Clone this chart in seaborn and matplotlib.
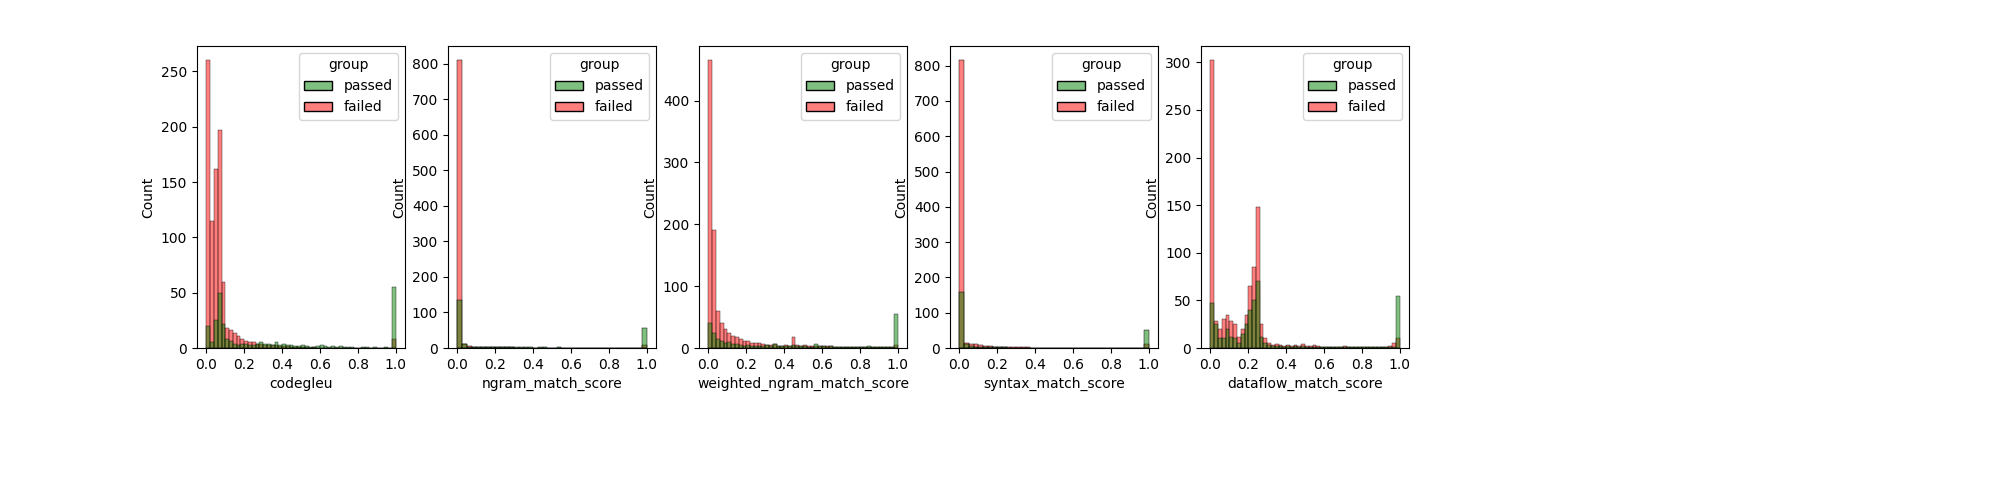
import numpy as np
import pandas as pd
import matplotlib
matplotlib.use("Agg")
import matplotlib.pyplot as plt
import seaborn as sns

metrics = ["codegleu", "ngram_match_score", "weighted_ngram_match_score",
           "syntax_match_score", "dataflow_match_score"]
n_bins = {"codegleu": 50, "ngram_match_score": 40, "weighted_ngram_match_score": 50,
          "syntax_match_score": 40, "dataflow_match_score": 50}

# bin counts
failed_counts = {
    "codegleu": [260, 115, 162, 197, 60, 18, 16, 14, 11, 8, 6, 5, 5, 4, 4, 3, 3, 3, 3, 2,
                 2, 2, 1, 1, 1, 1, 1, 0, 1, 0, 0, 0, 0, 0, 0, 0, 0, 0, 0, 0,
                 0, 0, 0, 0, 0, 0, 0, 0, 0, 8],
    "ngram_match_score": [810, 10, 5, 4, 4, 3, 3, 2, 2, 2, 2, 2, 1, 1, 1, 1, 1, 1, 1, 1,
                          1, 1, 1, 1, 0, 0, 0, 0, 1, 0, 0, 0, 0, 0, 0, 0, 0, 0, 0, 8],
    "weighted_ngram_match_score": [465, 190, 60, 40, 30, 25, 20, 18, 15, 12, 12, 8, 8, 8, 6, 5, 5, 6, 4, 4,
                                   5, 4, 18, 5, 4, 5, 4, 3, 3, 4, 3, 4, 3, 2, 2, 2, 2, 2, 2, 2,
                                   1, 1, 1, 1, 1, 1, 1, 1, 1, 5],
    "syntax_match_score": [815, 15, 12, 10, 8, 7, 6, 4, 3, 3, 3, 2, 2, 2, 2, 1, 1, 1, 1, 1,
                           1, 1, 1, 0, 0, 0, 0, 0, 0, 0, 0, 0, 0, 0, 0, 0, 0, 0, 0, 10],
    "dataflow_match_score": [302, 28, 20, 30, 35, 28, 25, 12, 20, 35, 65, 85, 148, 25, 10, 5, 3, 4, 3, 2,
                             3, 2, 3, 2, 4, 2, 2, 3, 2, 1, 1, 1, 1, 1, 1, 2, 1, 1, 1, 1,
                             1, 1, 1, 1, 1, 1, 1, 2, 5, 10],
}
passed_counts = {
    "codegleu": [20, 5, 25, 50, 22, 8, 6, 4, 3, 4, 4, 3, 3, 4, 5, 4, 4, 3, 5, 3,
                 4, 3, 3, 2, 2, 3, 2, 1, 1, 2, 3, 2, 1, 2, 1, 2, 1, 1, 1, 0,
                 0, 1, 1, 0, 1, 0, 0, 1, 0, 55],
    "ngram_match_score": [135, 12, 4, 3, 4, 3, 3, 2, 3, 2, 2, 3, 2, 2, 2, 2, 1, 2, 2, 1,
                          1, 2, 1, 1, 1, 1, 1, 1, 1, 1, 1, 1, 1, 1, 1, 1, 0, 0, 0, 55],
    "weighted_ngram_match_score": [40, 25, 15, 12, 8, 10, 6, 6, 5, 4, 5, 4, 3, 3, 4, 5, 3, 6, 4, 3,
                                   3, 4, 5, 4, 3, 3, 2, 2, 6, 3, 3, 2, 3, 2, 2, 2, 1, 2, 1, 2,
                                   1, 2, 3, 2, 1, 1, 1, 1, 1, 55],
    "syntax_match_score": [160, 10, 5, 3, 3, 2, 2, 2, 2, 2, 1, 1, 1, 1, 1, 1, 1, 1, 1, 1,
                           1, 1, 1, 1, 1, 1, 1, 1, 1, 1, 1, 0, 1, 0, 0, 0, 0, 0, 0, 50],
    "dataflow_match_score": [47, 25, 10, 10, 20, 12, 10, 5, 15, 25, 40, 50, 70, 12, 5, 3, 2, 2, 2, 1,
                             2, 1, 2, 1, 2, 1, 1, 1, 1, 1, 1, 1, 1, 1, 1, 1, 1, 1, 1, 1,
                             1, 1, 1, 1, 1, 1, 1, 1, 1, 55],
}

fig, axes = plt.subplots(1, 5, figsize=(20, 5))
fig.subplots_adjust(left=0.0985, right=0.7045, bottom=0.304, top=0.908, wspace=0.207)

for ax, m in zip(axes, metrics):
    nb = n_bins[m]
    edges = np.linspace(0, 1, nb + 1)
    centers = (edges[:-1] + edges[1:]) / 2
    df = pd.DataFrame({
        m: np.concatenate([centers, centers]),
        "w": passed_counts[m] + failed_counts[m],
        "group": ["passed"] * nb + ["failed"] * nb,
    })
    sns.histplot(data=df, x=m, weights="w", hue="group", bins=nb, binrange=(0, 1),
                 hue_order=["passed", "failed"],
                 palette={"passed": "green", "failed": "red"}, ax=ax)
    ax.set_xlim(-0.05, 1.05)
    ax.set_xticks([0, 0.2, 0.4, 0.6, 0.8, 1.0])

fig.savefig("out.png", dpi=100)
